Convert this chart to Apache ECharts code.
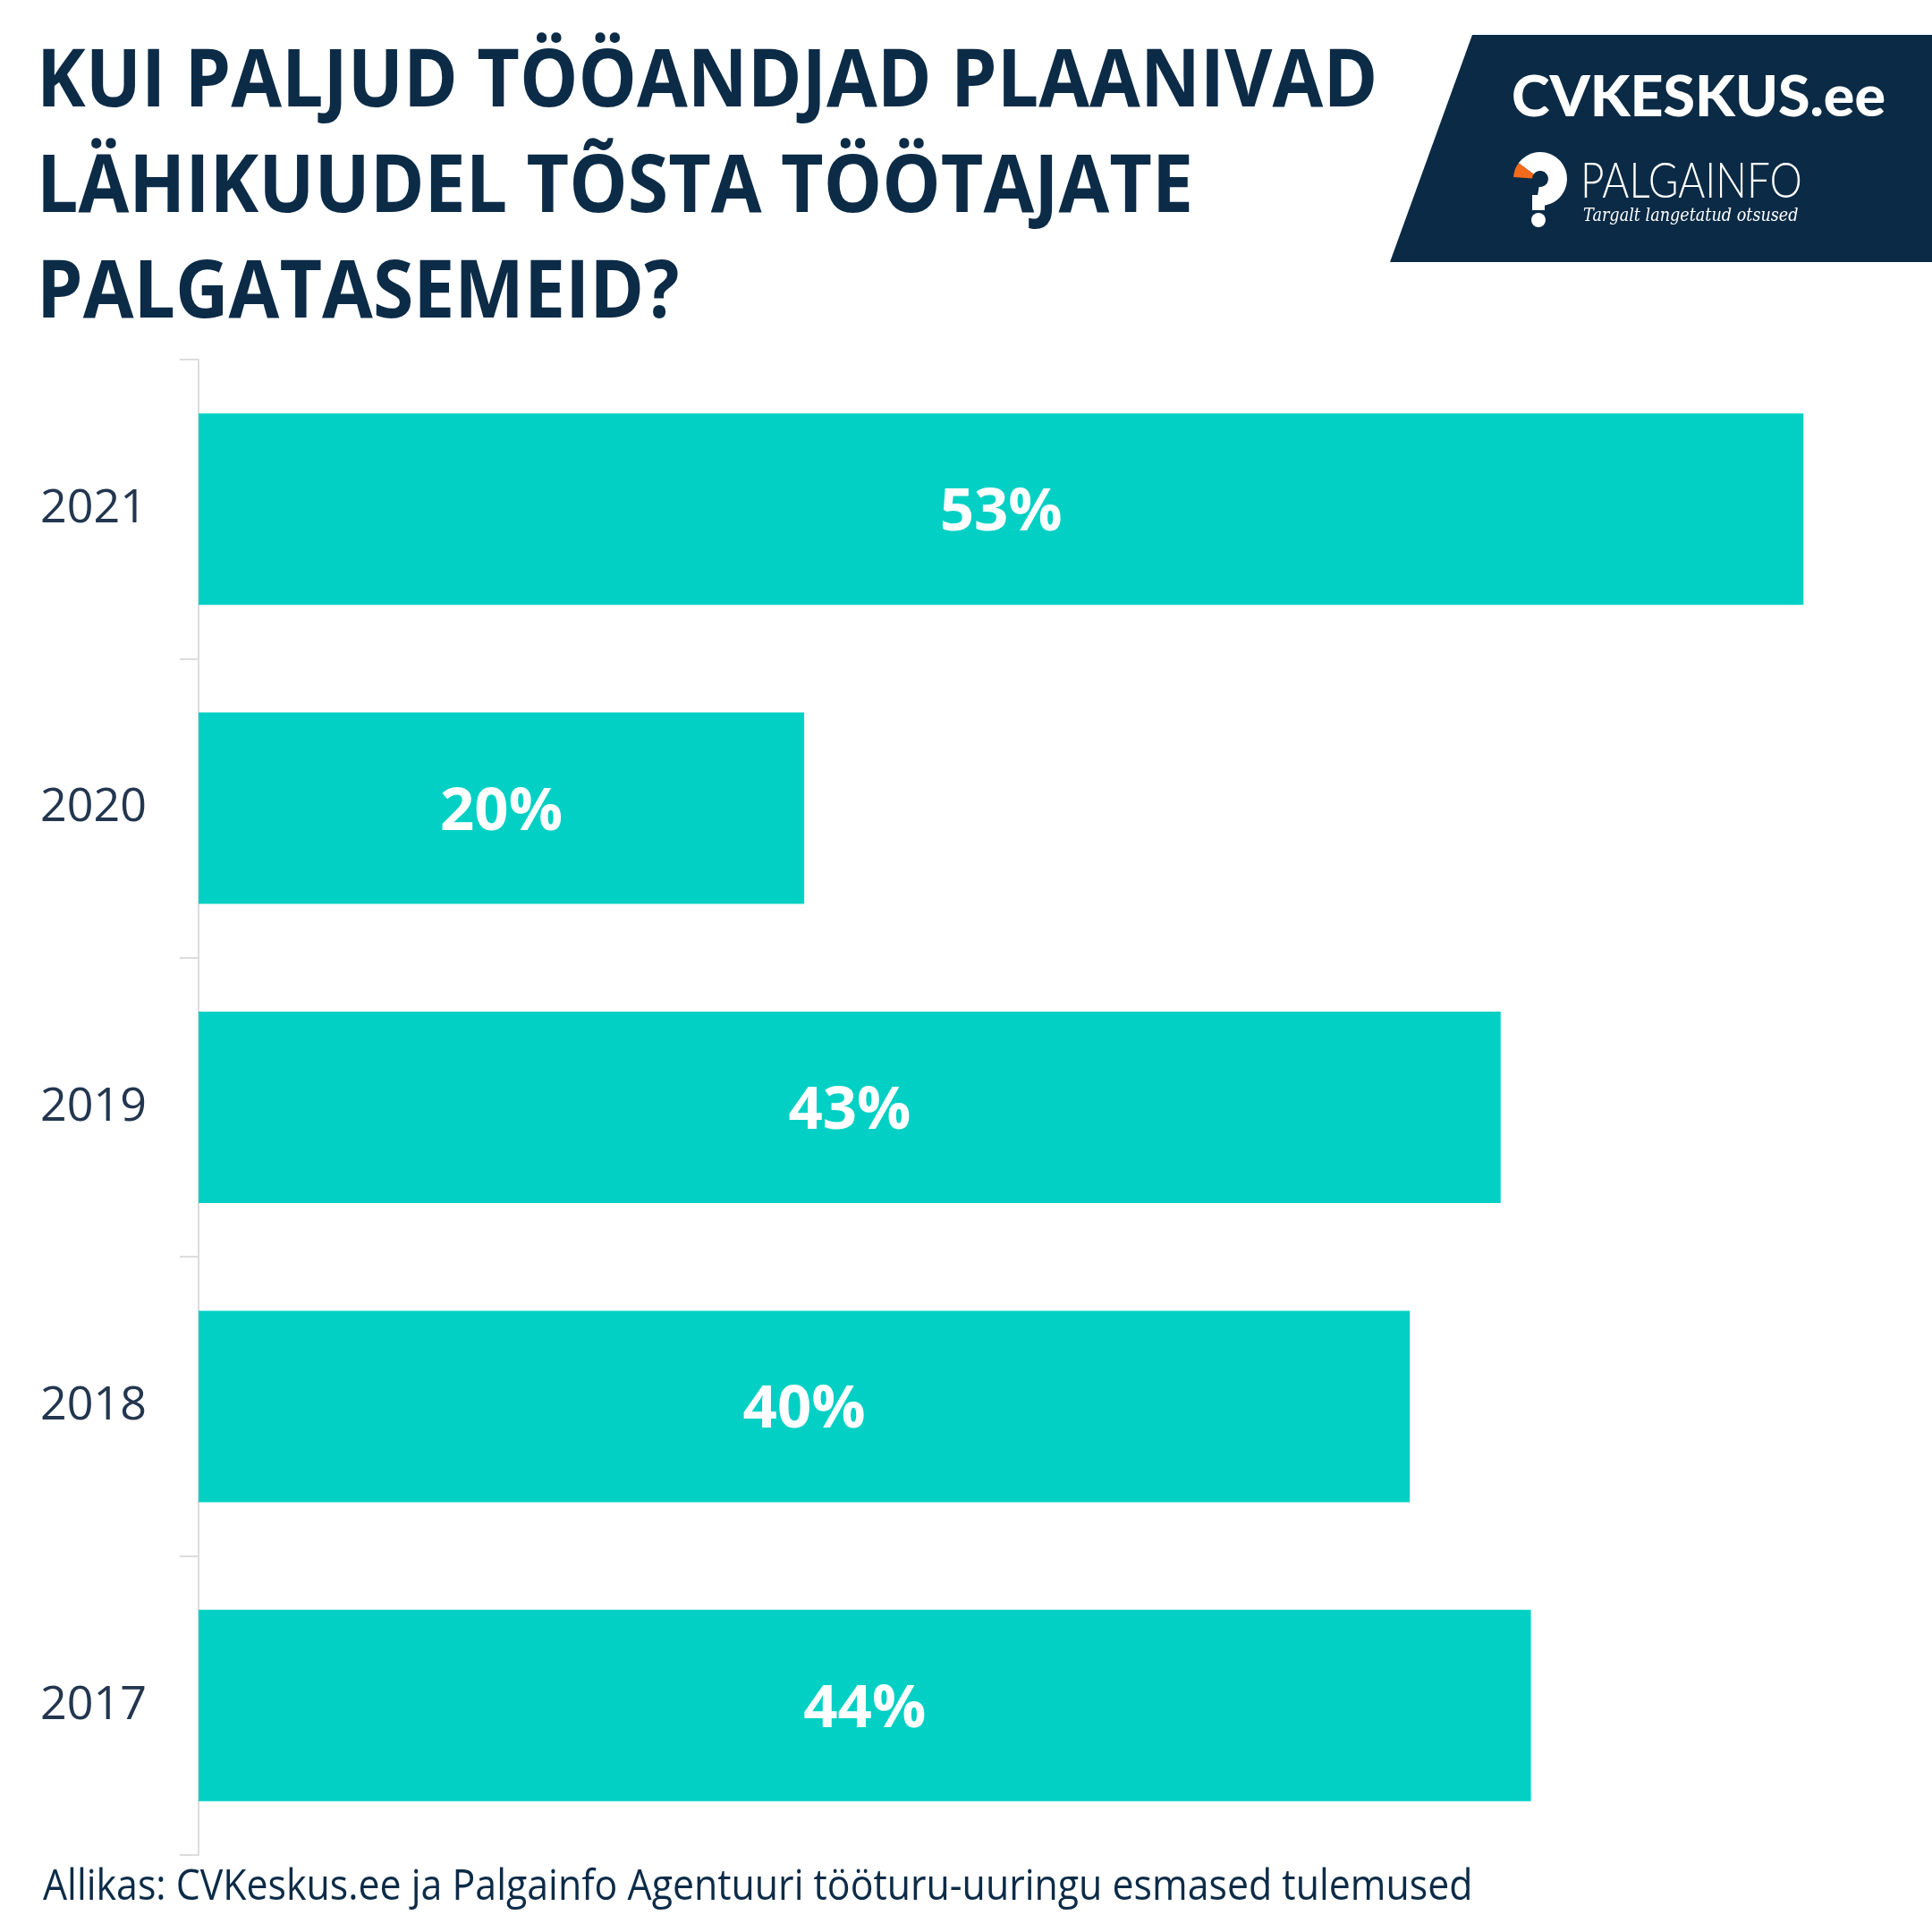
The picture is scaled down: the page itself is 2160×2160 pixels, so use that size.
<!DOCTYPE html>
<html>
<head>
<meta charset="utf-8">
<script src="https://cdn.jsdelivr.net/npm/echarts@6/dist/echarts.min.js"></script>
<style>html,body{margin:0;padding:0;background:#fff;}#c{width:2160px;height:2160px;}</style>
</head>
<body>
<div id="c"></div>
<script>
const years = ['2021', '2020', '2019', '2018', '2017'];
const shares = [53, 20, 43, 40, 44];
const titleLines = ['KUI PALJUD TÖÖANDJAD PLAANIVAD', 'LÄHIKUUDEL TÕSTA TÖÖTAJATE', 'PALGATASEMEID?'];
const sourceText = 'Allikas: CVKeskus.ee ja Palgainfo Agentuuri tööturu-uuringu esmased tulemused';

const navy = '#0c2b47';
const chart = echarts.init(document.getElementById('c'), null, {renderer: 'canvas'});

const titleGraphics = titleLines.map((t, i) => ({
  type: 'text', x: 41, y: 94 + i * 118, scaleX: 0.925,
  style: {text: t, font: 'bold 89px "Open Sans"', fill: navy, verticalAlign: 'middle'}
}));

chart.setOption({
  backgroundColor: '#ffffff',
  animation: false,
  grid: {left: 222, right: 76, top: 402, bottom: 86, containLabel: false},
  xAxis: {type: 'value', min: 0, max: 55, show: false},
  yAxis: {
    type: 'category', data: years, inverse: true,
    axisLine: {show: true, lineStyle: {color: '#dcdcdc', width: 2}},
    axisTick: {show: true, length: 21, lineStyle: {color: '#dcdcdc', width: 2}},
    axisLabel: {margin: 58, fontFamily: '"Open Sans"', fontSize: 52, color: '#23364f'}
  },
  series: [{
    type: 'bar', data: shares, barCategoryGap: '36%',
    itemStyle: {color: '#02d0c4'},
    label: {
      show: true, position: 'inside', formatter: '{c}%', offset: [0, 5],
      fontFamily: '"Open Sans"', fontWeight: 'bold', fontSize: 67, color: '#ffffff'
    }
  }],
  graphic: [
    ...titleGraphics,
    {
      type: 'polygon',
      shape: {points: [[1646, 39], [2160, 39], [2160, 293], [1554, 293]]},
      style: {fill: '#0b2a45'}
    },
    {
      type: 'text', x: 1690, y: 110, scaleX: 1.04,
      style: {text: 'CVKESKUS.ee', font: '900 62px "Lato"', fill: '#ffffff', verticalAlign: 'middle'}
    },
    {
      type: 'sector',
      shape: {cx: 1722, cy: 200, r: 30, r0: 9, startAngle: Math.PI * 1.2, endAngle: Math.PI * 2.55},
      style: {fill: '#ffffff'}
    },
    {
      type: 'sector',
      shape: {cx: 1722, cy: 200, r: 30, r0: 9, startAngle: Math.PI * 1.02, endAngle: Math.PI * 1.2},
      style: {fill: '#f26a1b'}
    },
    {type: 'rect', shape: {x: 1713, y: 218, width: 14, height: 17}, style: {fill: '#ffffff'}},
    {type: 'circle', shape: {cx: 1720, cy: 246, r: 8}, style: {fill: '#ffffff'}},
    {
      type: 'text', x: 1767, y: 203, scaleX: 0.82,
      style: {text: 'PALGAINFO', font: '300 56px "Lato"', fill: '#ffffff', verticalAlign: 'middle'}
    },
    {
      type: 'text', x: 1770, y: 242, scaleX: 0.84,
      style: {text: 'Targalt langetatud otsused', font: 'italic 21px "DejaVu Serif"', fill: '#ffffff', verticalAlign: 'middle'}
    },
    {
      type: 'text', x: 48, y: 2110, scaleX: 0.893,
      style: {text: sourceText, font: '48px "Open Sans"', fill: navy, verticalAlign: 'middle'}
    }
  ]
});
</script>
</body>
</html>
